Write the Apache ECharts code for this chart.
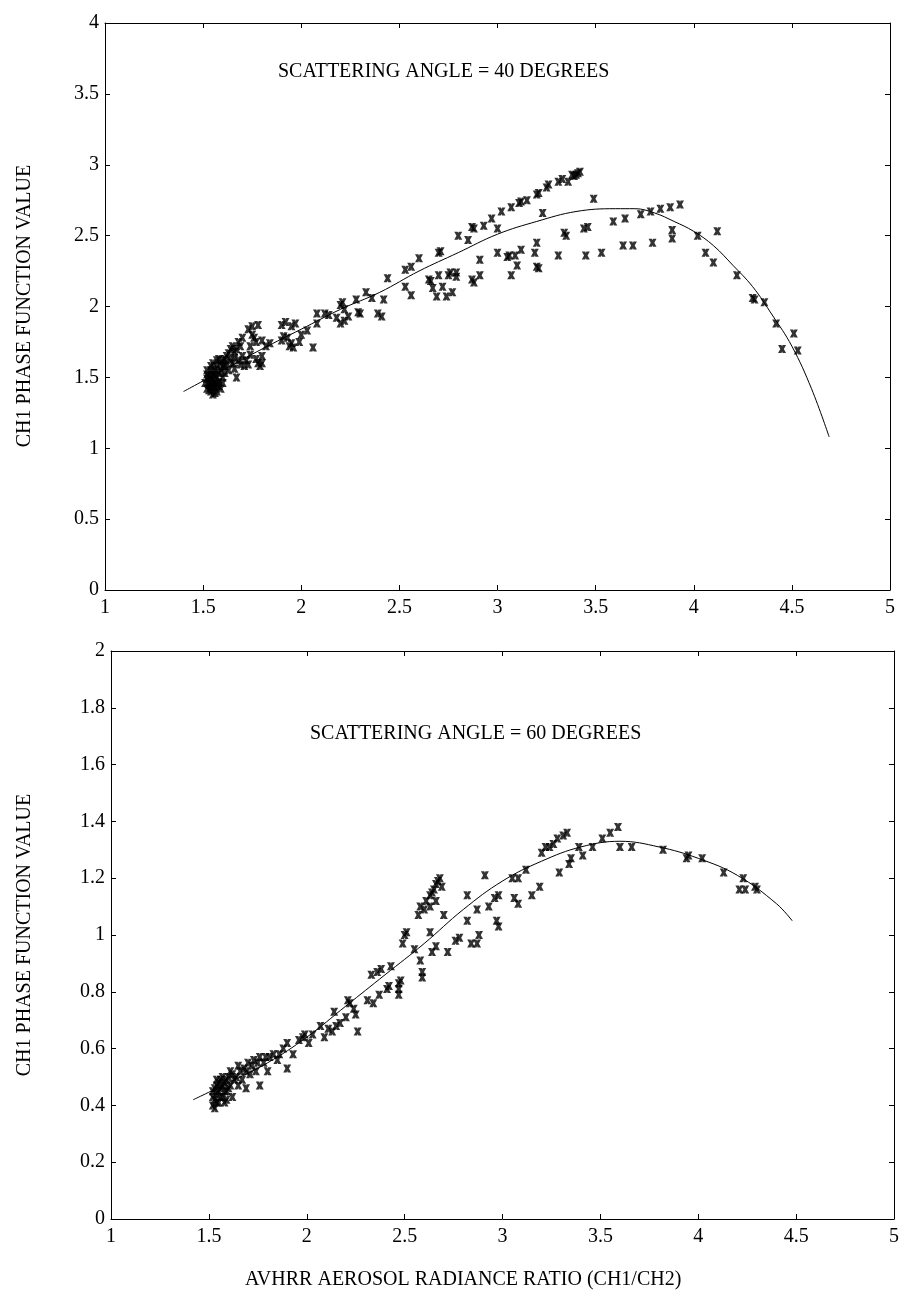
<!DOCTYPE html>
<html>
<head>
<meta charset="utf-8">
<script src="https://cdn.jsdelivr.net/npm/echarts@6/dist/echarts.min.js"></script>
<style>
html,body{margin:0;padding:0;background:#fff;}
#chart{width:904px;height:1301px;}
</style>
</head>
<body>
<div id="chart"></div>
<script>
// ---------- DATA ----------
const xTicks = [1, 1.5, 2, 2.5, 3, 3.5, 4, 4.5, 5];
const yTicksTop = [0, 0.5, 1, 1.5, 2, 2.5, 3, 3.5, 4];
const yTicksBottom = [0, 0.2, 0.4, 0.6, 0.8, 1, 1.2, 1.4, 1.6, 1.8, 2];

const titleTop = "SCATTERING ANGLE = 40 DEGREES";
const titleBottom = "SCATTERING ANGLE = 60 DEGREES";
const yAxisName = "CH1 PHASE FUNCTION VALUE";
const xAxisName = "AVHRR AEROSOL RADIANCE RATIO (CH1/CH2)";

// 40 degree scatter (ratio, phase function)
const points40 = [
  [1.52,1.42],[1.53,1.45],[1.54,1.40],[1.55,1.48],[1.53,1.50],[1.56,1.43],[1.52,1.52],[1.54,1.55],
  [1.56,1.52],[1.57,1.58],[1.55,1.60],[1.58,1.47],[1.59,1.55],[1.60,1.62],[1.58,1.63],[1.61,1.58],
  [1.57,1.40],[1.55,1.38],[1.60,1.50],[1.62,1.65],[1.63,1.55],[1.53,1.47],[1.56,1.46],[1.59,1.42],
  [1.51,1.46],[1.52,1.49],[1.54,1.43],[1.55,1.45],[1.55,1.52],[1.56,1.55],[1.57,1.50],[1.58,1.53],
  [1.53,1.41],[1.56,1.39],[1.58,1.44],[1.60,1.58],[1.61,1.63],[1.59,1.60],[1.57,1.62],[1.54,1.58],
  [1.62,1.60],[1.63,1.67],[1.64,1.62],[1.61,1.53],[1.60,1.46],[1.52,1.55],[1.57,1.45],[1.54,1.51],
  [1.64,1.70],[1.66,1.68],[1.65,1.60],[1.67,1.50],[1.68,1.75],[1.70,1.78],[1.68,1.62],[1.70,1.65],
  [1.66,1.56],[1.72,1.62],[1.71,1.58],[1.74,1.66],[1.65,1.72],[1.67,1.70],[1.69,1.72],[1.66,1.64],
  [1.69,1.59],[1.73,1.59],
  [1.73,1.84],[1.75,1.86],[1.78,1.87],[1.76,1.78],[1.74,1.72],[1.78,1.60],[1.79,1.58],[1.77,1.63],
  [1.80,1.65],[1.80,1.76],[1.84,1.74],[1.82,1.72],[1.75,1.80],[1.77,1.75],[1.80,1.60],
  [1.90,1.87],[1.92,1.89],[1.95,1.86],[1.97,1.88],[1.90,1.76],[1.93,1.78],[1.94,1.72],[1.96,1.71],
  [1.99,1.75],[2.00,1.80],[2.03,1.83],[2.06,1.71],[2.08,1.88],[1.91,1.79],[1.95,1.74],
  [2.08,1.95],[2.12,1.95],[2.14,1.94],[2.18,1.92],[2.20,1.88],[2.21,2.03],[2.22,1.98],[2.24,1.93],
  [2.28,2.05],[2.30,1.95],[2.29,1.96],[2.33,2.10],[2.36,2.06],[2.39,1.95],[2.41,1.93],[2.42,2.05],[2.44,2.20],
  [2.20,2.01],[2.22,1.90],
  [2.53,2.26],[2.56,2.28],[2.60,2.34],[2.53,2.14],[2.56,2.08],[2.65,2.19],[2.66,2.18],[2.70,2.38],
  [2.71,2.39],[2.67,2.13],[2.70,2.22],[2.75,2.22],[2.79,2.21],[2.72,2.14],[2.69,2.07],[2.74,2.07],
  [2.77,2.10],[2.76,2.24],[2.79,2.24],
  [2.80,2.50],[2.85,2.47],[2.87,2.56],[2.88,2.55],[2.93,2.57],[2.97,2.62],[3.00,2.55],[3.02,2.67],
  [3.07,2.70],[3.11,2.73],[3.12,2.74],[3.15,2.75],[3.20,2.79],[3.21,2.80],[3.25,2.84],[3.26,2.86],
  [3.31,2.88],[3.33,2.90],[3.36,2.88],[3.38,2.93],[3.40,2.93],[3.41,2.94],[3.42,2.95],[3.39,2.92],
  [2.87,2.19],[2.88,2.17],[2.91,2.33],[2.91,2.22],[3.00,2.38],[3.05,2.35],[3.06,2.36],[3.09,2.36],
  [3.12,2.40],[3.10,2.29],[3.07,2.22],[3.19,2.38],[3.20,2.45],[3.20,2.28],[3.21,2.27],[3.23,2.66],
  [3.34,2.52],[3.35,2.50],[3.31,2.36],[3.44,2.55],[3.46,2.56],[3.45,2.36],[3.49,2.76],[3.53,2.38],
  [3.59,2.60],[3.65,2.62],[3.64,2.43],[3.69,2.43],[3.73,2.65],[3.78,2.67],[3.83,2.69],[3.88,2.70],
  [3.93,2.72],[3.79,2.45],[3.89,2.54],[3.89,2.48],[4.02,2.50],[4.12,2.53],[4.06,2.38],[4.10,2.31],
  [4.22,2.22],[4.30,2.06],[4.31,2.05],[4.36,2.03],[4.42,1.88],[4.51,1.81],[4.45,1.70],[4.53,1.69]
];
// 40 degree fitted curve
const curve40 = [
  [1.40,1.40],[1.6,1.55],[1.8,1.70],[2.0,1.84],[2.2,1.98],[2.4,2.10],[2.6,2.25],[2.8,2.38],
  [3.0,2.51],[3.2,2.60],[3.4,2.67],[3.6,2.69],[3.7,2.69],[3.8,2.66],[3.9,2.60],[4.0,2.53],
  [4.1,2.43],[4.2,2.29],[4.3,2.14],[4.4,1.94],[4.5,1.72],[4.6,1.42],[4.69,1.08]
];

// 60 degree scatter
const points60 = [
  [1.52,0.40],[1.53,0.42],[1.54,0.44],[1.52,0.45],[1.55,0.41],[1.56,0.46],[1.54,0.47],[1.57,0.43],
  [1.58,0.48],[1.56,0.49],[1.59,0.45],[1.60,0.50],[1.61,0.47],[1.58,0.41],[1.62,0.43],[1.62,0.51],
  [1.63,0.49],[1.53,0.39],[1.55,0.45],[1.57,0.47],[1.53,0.46],[1.54,0.41],[1.55,0.48],[1.56,0.43],
  [1.57,0.50],[1.58,0.45],[1.59,0.49],[1.60,0.46],[1.61,0.52],[1.52,0.43],[1.54,0.49],[1.59,0.42],
  [1.64,0.50],[1.66,0.52],[1.65,0.47],[1.68,0.53],[1.69,0.46],[1.70,0.55],[1.72,0.54],[1.73,0.56],
  [1.71,0.51],[1.74,0.52],[1.76,0.47],[1.76,0.57],[1.78,0.55],[1.80,0.52],[1.81,0.57],[1.83,0.58],
  [1.85,0.56],[1.86,0.58],[1.88,0.60],[1.90,0.53],[1.90,0.62],[1.93,0.58],[1.65,0.54],[1.67,0.49],
  [1.69,0.52],[1.75,0.55],[1.79,0.57],
  [1.96,0.63],[1.98,0.64],[1.99,0.65],[2.01,0.62],[2.03,0.65],[2.07,0.68],[2.09,0.64],[2.11,0.67],
  [2.13,0.66],[2.14,0.73],[2.15,0.68],[2.17,0.69],[2.20,0.71],[2.21,0.77],[2.22,0.76],[2.24,0.74],
  [2.25,0.72],[2.26,0.66],
  [2.31,0.77],[2.34,0.76],[2.33,0.86],[2.36,0.87],[2.38,0.88],[2.43,0.89],[2.37,0.79],[2.41,0.81],
  [2.42,0.82],[2.47,0.79],[2.47,0.81],[2.47,0.83],[2.48,0.84],
  [2.49,0.97],[2.50,1.00],[2.51,1.01],[2.57,1.07],[2.58,1.10],[2.60,1.09],[2.61,1.12],[2.63,1.14],
  [2.65,1.16],[2.67,1.19],[2.68,1.20],[2.69,1.17],[2.66,1.12],[2.63,1.10],[2.64,1.15],[2.66,1.18],
  [2.55,0.95],[2.58,0.91],[2.59,0.85],[2.59,0.87],[2.63,1.01],[2.64,0.94],[2.66,0.96],[2.70,1.07],
  [2.72,0.94],[2.76,0.98],[2.78,0.99],[2.82,1.14],[2.82,1.05],[2.84,0.97],[2.87,0.97],[2.88,1.00],
  [2.87,1.09],[2.91,1.21],[2.93,1.10],[2.96,1.13],[2.97,1.05],[2.98,1.03],[2.98,1.14],
  [3.05,1.20],[3.08,1.20],[3.12,1.23],[3.06,1.13],[3.08,1.11],[3.15,1.14],[3.19,1.17],[3.20,1.29],
  [3.22,1.31],[3.24,1.31],[3.26,1.32],[3.28,1.34],[3.31,1.35],[3.33,1.36],[3.29,1.22],[3.34,1.25],
  [3.35,1.27],[3.39,1.31],[3.41,1.28],[3.46,1.31],[3.51,1.34],[3.55,1.36],[3.59,1.38],[3.60,1.31],
  [3.66,1.31],[3.82,1.30],[3.94,1.27],[3.95,1.28],[4.02,1.27],[4.13,1.22],[4.23,1.20],[4.21,1.16],
  [4.24,1.16],[4.30,1.16],[4.29,1.17]
];
// 60 degree fitted curve
const curve60 = [
  [1.42,0.42],[1.6,0.48],[1.8,0.55],[2.0,0.64],[2.2,0.75],[2.4,0.86],[2.6,0.97],[2.8,1.09],
  [3.0,1.19],[3.2,1.26],[3.4,1.31],[3.6,1.33],[3.8,1.31],[4.0,1.27],[4.2,1.21],[4.4,1.11],[4.48,1.05]
];

// ---------- CHART ----------
const FONT = '"Liberation Serif", "DejaVu Serif", serif';
const xMark = 'path://M0,0H4.3L5,1.8L5.7,0H10L7.2,5L10,10H5.7L5,8.2L4.3,10H0L2.8,5Z';

const chart = echarts.init(document.getElementById('chart'), null, {renderer: 'canvas'});

function axisPair(gridIndex, min, max, interval, isX) {
  const common = {
    type: 'value', gridIndex, min, max, interval,
    splitLine: {show: false},
    axisLine: {show: true, onZero: false, lineStyle: {color: '#000', width: 1}},
    axisTick: {show: true, inside: true, length: 5, lineStyle: {color: '#000', width: 1}}
  };
  const main = Object.assign({}, common, {
    position: isX ? 'bottom' : 'left',
    axisLabel: {show: true, color: '#000', fontFamily: FONT, fontSize: 20, margin: isX ? 8 : 6}
  });
  const opp = Object.assign({}, common, {
    position: isX ? 'top' : 'right',
    axisLabel: {show: false}
  });
  return [main, opp];
}

const xAxes = [].concat(axisPair(0, 1, 5, 0.5, true), axisPair(1, 1, 5, 0.5, true));
const yAxes = [].concat(axisPair(0, 0, 4, 0.5, false), axisPair(1, 0, 2, 0.2, false));

const option = {
  backgroundColor: '#fff',
  animation: false,
  grid: [
    {left: 105, top: 23, width: 785, height: 567},
    {left: 111, top: 651, width: 783, height: 568}
  ],
  xAxis: xAxes,
  yAxis: yAxes,
  graphic: [
    {type: 'text', left: 278, top: 62, style: {text: titleTop, font: '20px ' + FONT, fill: '#000'}},
    {type: 'text', left: 310, top: 724, style: {text: titleBottom, font: '20px ' + FONT, fill: '#000'}},
    {type: 'text', left: 245, top: 1270, style: {text: xAxisName, font: '20px ' + FONT, fill: '#000'}},
    {type: 'text', x: 25, y: 306, rotation: Math.PI / 2, style: {text: yAxisName, font: '20px ' + FONT, fill: '#000', align: 'center', verticalAlign: 'middle'}},
    {type: 'text', x: 25, y: 935, rotation: Math.PI / 2, style: {text: yAxisName, font: '20px ' + FONT, fill: '#000', align: 'center', verticalAlign: 'middle'}}
  ],
  series: [
    {type: 'scatter', xAxisIndex: 0, yAxisIndex: 0, data: points40, symbol: xMark, symbolSize: [8, 8],
     itemStyle: {color: '#000'}},
    {type: 'line', xAxisIndex: 0, yAxisIndex: 0, data: curve40, showSymbol: false, smooth: 0.4,
     lineStyle: {color: '#000', width: 1}},
    {type: 'scatter', xAxisIndex: 2, yAxisIndex: 2, data: points60, symbol: xMark, symbolSize: [8, 8],
     itemStyle: {color: '#000'}},
    {type: 'line', xAxisIndex: 2, yAxisIndex: 2, data: curve60, showSymbol: false, smooth: 0.4,
     lineStyle: {color: '#000', width: 1}}
  ]
};
chart.setOption(option);
</script>
</body>
</html>
